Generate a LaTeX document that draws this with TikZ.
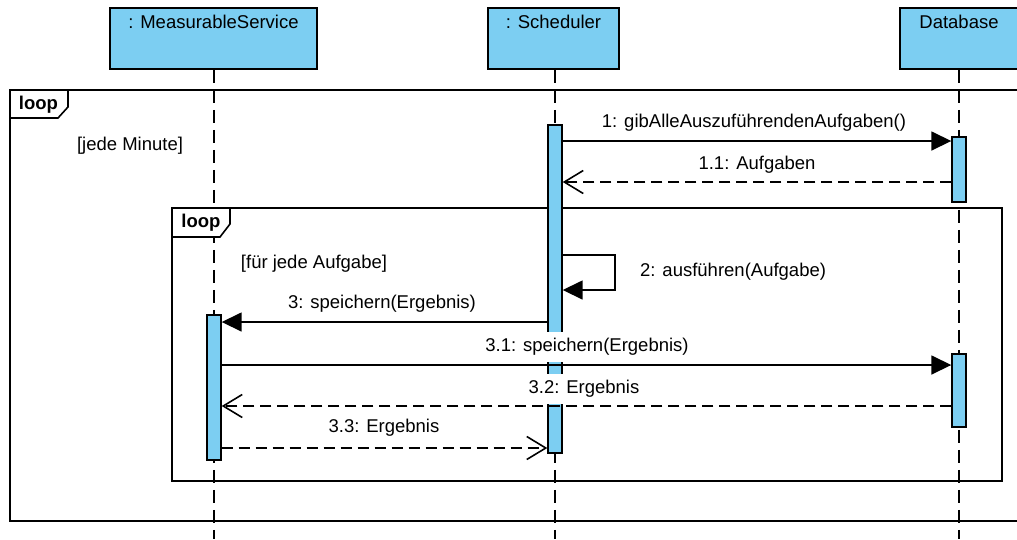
\documentclass[tikz,border=0pt]{standalone}
\usepackage{fontspec}
\setmainfont{Liberation Sans}
\usetikzlibrary{arrows.meta}
\definecolor{lifeblue}{RGB}{124,206,242}
\tikzset{
  hdr/.style={draw, fill=lifeblue, line width=1.6pt, minimum height=61pt, inner sep=0pt},
  actbar/.style={draw, fill=lifeblue, line width=1.4pt, minimum width=14pt, inner sep=0pt},
  lifeline/.style={line width=1.6pt, dash pattern=on 13pt off 7pt},
  frame/.style={line width=1.6pt},
  tab/.style={line width=1.6pt, fill=white},
  looptext/.style={font=\fontsize{18.5}{22}\selectfont\bfseries, inner sep=0pt},
  call/.style={line width=1.6pt, -{Triangle[length=20pt,width=19pt]}},
  reply/.style={line width=1.6pt, dash pattern=on 11pt off 6pt, -{Straight Barb[length=19pt,width=23pt,line width=1.6pt]}},
  msglabel/.style={inner sep=0pt},
  coverlabel/.style={fill=white, inner sep=6pt},
}
\begin{document}
\begin{tikzpicture}[x=1pt, y=-1pt, font=\fontsize{18.5}{22}\selectfont]
\useasboundingbox[fill=white] (0,0) rectangle (1017,539);

% lifeline heads
\node[hdr, minimum width=207pt, label={[anchor=center, yshift=-15pt]north:{: MeasurableService}}] (ms) at (213.5,38.5) {};
\node[hdr, minimum width=131pt, label={[anchor=center, yshift=-15pt]north:{: Scheduler}}] (sch) at (553.5,38.5) {};
\node[hdr, minimum width=130pt, label={[anchor=center, yshift=-15pt, xshift=-6pt]north:{Database}}] (db) at (965,38.5) {};

% lifeline ends at the bottom edge
\coordinate (msend) at (214,539);
\coordinate (schend) at (555,539);
\coordinate (dbend) at (959,539);
\draw[lifeline] (msend |- ms.south) -- (msend);
\draw[lifeline] (schend |- sch.south) -- (schend);
\draw[lifeline] (dbend |- db.south) -- (dbend);

% combined fragments
\draw[frame] (10,90) rectangle (1030,521);
\draw[tab] (10,90) -- (68,90) -- (68,107) -- (58,118) -- (10,118) -- cycle;
\node[looptext] (loopA) at (38.5,104.5) {loop};
\node[msglabel] (guardA) at (130,146) {[jede Minute]};

\draw[frame] (172,208) rectangle (1002,481);
\draw[tab] (172,208) -- (230,208) -- (230,224) -- (220,237) -- (172,237) -- cycle;
\node[looptext] (loopB) at (201,223) {loop};
\node[msglabel] (guardB) at (314,264) {[für jede Aufgabe]};

% activation bars
\node[actbar, minimum height=328pt] (sbar) at (555,289) {};
\node[actbar, minimum height=65pt] (dbar1) at (959,169.5) {};
\node[actbar, minimum height=73pt] (dbar2) at (959,390.5) {};
\node[actbar, minimum height=145pt] (mbar) at (214,387.5) {};

% messages
\draw[call] (sbar.east |- 0,141) -- (dbar1.west |- 0,141);
\node[msglabel] (m1) at (754,122.5) {1: gibAlleAuszuführendenAufgaben()};

\draw[reply] (dbar1.west |- 0,182) -- (sbar.east |- 0,182);
\node[msglabel] (m11) at (757,165) {1.1: Aufgaben};

\draw[call] (sbar.east |- 0,255) -- (615,255) -- (615,290) -- (sbar.east |- 0,290);
\node[msglabel, anchor=west] (m2) at (640,272) {2: ausführen(Aufgabe)};

\draw[call] (sbar.west |- 0,322) -- (mbar.east |- 0,322);
\node[msglabel] (m3) at (382,304) {3: speichern(Ergebnis)};

\node[coverlabel] (m31) at (587,347) {3.1: speichern(Ergebnis)};
\draw[call] (mbar.east |- 0,365) -- (dbar2.west |- 0,365);

\node[coverlabel] (m32) at (584,389) {3.2: Ergebnis};
\draw[reply] (dbar2.west |- 0,406) -- (mbar.east |- 0,406);

\draw[reply] (mbar.east |- 0,448) -- (sbar.west |- 0,448);
\node[msglabel] (m33) at (384,428) {3.3: Ergebnis};
\end{tikzpicture}
\end{document}
